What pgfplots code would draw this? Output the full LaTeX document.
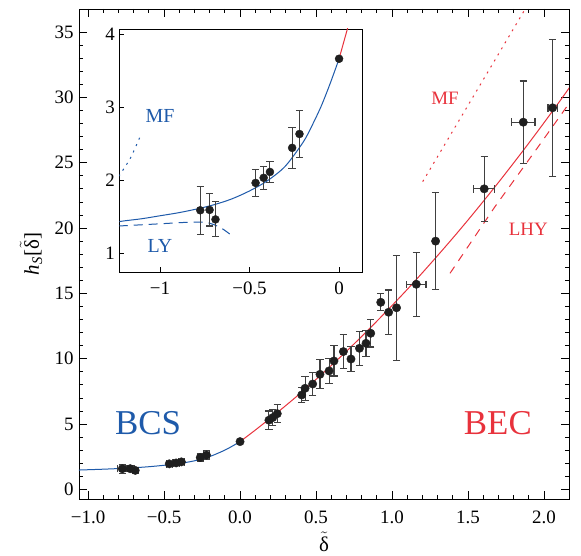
\documentclass[border=0pt]{standalone}
\usepackage{fontspec}
\setmainfont{Liberation Serif}
\usepackage{pgfplots}
\pgfplotsset{compat=1.18}
\definecolor{cblue}{RGB}{30,90,170}
\definecolor{cred}{RGB}{232,50,60}
\newcommand{\fs}[1]{\fontsize{#1}{#1}\selectfont}
\newcommand{\tdelta}{$\tilde{\mbox{δ}}$}
\begin{document}
\begin{tikzpicture}
\begin{axis}[
  scale only axis, width=490bp, height=490bp,
  xmin=-1.06, xmax=2.165, ymin=-0.73, ymax=36.76,
  axis line style={line width=0.9bp},
  xtick={-1,-0.5,0,0.5,1,1.5,2},
  xticklabels={−1.0,−0.5,0.0,0.5,1.0,1.5,2.0},
  ytick={0,5,10,15,20,25,30,35},
  minor x tick num=4, minor y tick num=4,
  major tick length=7.7bp, minor tick length=4bp,
  every tick/.style={line width=0.8bp, black},
  tick align=inside,
  /pgf/number format/assume math mode=true,
  tick label style={font=\fs{19}},
  xticklabel style={yshift=-8bp},
  yticklabel style={xshift=-2bp},
  xlabel={\tdelta}, ylabel={\textit{h}\textsubscript{\textit{S}}[\tdelta]},
  label style={font=\fs{21}},
  xlabel style={at={(axis description cs:0.5,-0.088)}, anchor=center},
  ylabel style={at={(axis description cs:-0.098,0.5)}, anchor=center},
]
% blue theory curve (BCS side)
\addplot[cblue, line width=1bp, smooth] coordinates {
(-1.1,1.47) (-1.0,1.51) (-0.9,1.55) (-0.8,1.60) (-0.7,1.66) (-0.6,1.74) (-0.5,1.85)
(-0.4,1.99) (-0.3,2.19) (-0.2,2.52) (-0.15,2.75)
(-0.1,3.01) (-0.05,3.32) (0,3.66)};
% red theory curve (BEC side)
\addplot[cred, line width=1bp, smooth] coordinates {
(0,3.66) (0.1,4.54) (0.2,5.46) (0.3,6.41) (0.4,7.39) (0.5,8.42) (0.6,9.48)
(0.7,10.57) (0.8,11.70) (0.9,12.87) (1.0,14.07) (1.1,15.30) (1.2,16.58)
(1.3,17.89) (1.4,19.23) (1.5,20.61) (1.6,22.03) (1.7,23.48) (1.8,24.97)
(1.9,26.49) (2.0,28.05) (2.1,29.64) (2.2,31.27)};
% MF (dotted)
\addplot[cred, line width=1bp, dash pattern=on 2bp off 5bp] coordinates {
(1.202,23.55) (1.524,29.85) (1.886,36.94) (1.95,38.2)};
% LHY (dashed)
\addplot[cred, line width=1bp, dash pattern=on 8bp off 7bp] coordinates {
(1.382,16.54) (1.678,21.64) (1.963,26.23) (2.2,30.1)};
% data
\addplot[only marks, mark=*, mark size=4.2bp, mark options={fill=black!88, draw=black!88},
  error bars/.cd, y dir=both, y explicit, x dir=both, x explicit,
  error bar style={line width=1.1bp, black!75},
  error mark options={rotate=90, mark size=3.7bp, line width=1.1bp, black!75}]
table[x=x, y=y, x error=ex, y error=ey] {
x y ex ey
-0.775 1.585 0.03 0.33
-0.723 1.59 0.03 0.22
-0.69 1.46 0.02 0.24
-0.466 1.96 0.02 0.18
-0.421 2.03 0.02 0.16
-0.386 2.11 0.02 0.14
-0.262 2.44 0.02 0.28
-0.221 2.63 0.02 0.32
0 3.66 0 0
0.19 5.3 0 0.7
0.215 5.5 0 0.6
0.245 5.8 0 0.7
0.406 7.23 0 0.6
0.428 7.74 0 0.9
0.478 8.07 0 0.9
0.526 8.81 0 1.1
0.586 9.07 0 0.95
0.618 9.83 0 1.15
0.68 10.55 0 1.3
0.73 9.98 0 0.93
0.786 10.8 0 1.3
0.829 11.18 0 1.0
0.86 11.95 0 1.05
0.926 14.32 0 0.66
0.978 13.56 0 1.7
1.03 13.9 0 4.0
1.16 15.7 0.064 2.45
1.287 19.0 0 3.7
1.607 23.0 0.07 2.5
1.864 28.1 0.077 3.15
2.057 29.2 0.03 5.25
};
\node[cblue, font=\fs{35}] at (axis cs:-0.605,5.09) {BCS};
\node[cred, font=\fs{35}] at (axis cs:1.697,5.09) {BEC};
\node[cred, font=\fs{19}] at (axis cs:1.349,29.93) {MF};
\node[cred, font=\fs{19}] at (axis cs:1.897,19.9) {LHY};
\end{axis}
% inset
\begin{axis}[
  at={(40.3bp,227bp)}, anchor=south west,
  scale only axis, width=242.7bp, height=243bp,
  xmin=-1.227, xmax=0.128, ymin=0.74, ymax=4.068,
  axis background/.style={fill=white},
  axis line style={line width=0.9bp},
  xtick={-1,-0.5,0}, xticklabels={−1,−0.5,0},
  ytick={1,2,3,4},
  xtick pos=left, ytick pos=left,
  major tick length=5bp,
  every tick/.style={line width=0.8bp, black},
  tick align=inside,
  /pgf/number format/assume math mode=true,
  tick label style={font=\fs{19}},
  xticklabel style={yshift=-6bp},
  yticklabel style={xshift=-1bp},
]
\addplot[cblue, line width=1bp, smooth] coordinates {
(-1.25,1.42) (-1.2,1.44) (-1.1,1.47) (-1.0,1.51) (-0.9,1.55) (-0.8,1.60) (-0.7,1.66)
(-0.6,1.74) (-0.5,1.85) (-0.4,1.99) (-0.3,2.19) (-0.2,2.52) (-0.15,2.75)
(-0.1,3.01) (-0.05,3.32) (0,3.66)};
\addplot[cred, line width=1bp] coordinates {(0,3.66) (0.05,4.10) (0.1,4.54)};
\addplot[cblue, line width=1bp, dash pattern=on 2bp off 5bp, smooth] coordinates {
(-1.23,2.05) (-1.165,2.30) (-1.11,2.60)};
\addplot[cblue, line width=1bp, dash pattern=on 9bp off 6bp, smooth] coordinates {
(-1.23,1.37) (-1.0,1.40) (-0.85,1.42) (-0.75,1.42) (-0.70,1.39) (-0.65,1.33) (-0.6,1.24)};
\addplot[only marks, mark=*, mark size=4bp, mark options={fill=black!88, draw=black!88},
  error bars/.cd, y dir=both, y explicit,
  error bar style={line width=1.1bp, black!75},
  error mark options={rotate=90, mark size=3.7bp, line width=1.1bp, black!75}]
table[x=x, y=y, y error=ey] {
x y ey
-0.775 1.585 0.33
-0.723 1.59 0.22
-0.69 1.46 0.24
-0.466 1.96 0.18
-0.421 2.03 0.16
-0.386 2.11 0.14
-0.262 2.44 0.28
-0.221 2.63 0.32
0 3.66 0
};
\node[cblue, font=\fs{20}] at (axis cs:-1.0,2.877) {MF};
\node[cblue, font=\fs{20}] at (axis cs:-1.0,1.09) {LY};
\end{axis}
\pgfresetboundingbox
\path[use as bounding box] (-79bp,-57bp) rectangle (502bp,499bp);
\end{tikzpicture}
\end{document}
